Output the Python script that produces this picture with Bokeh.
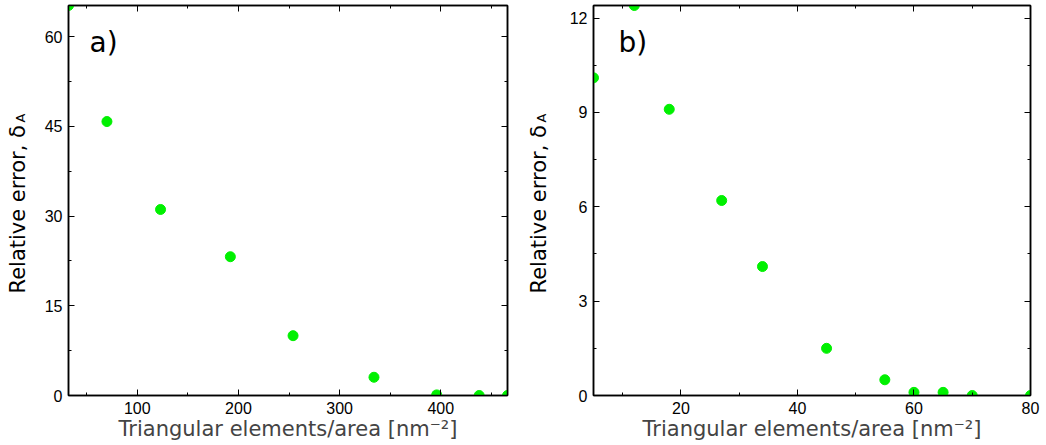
import math
from bokeh.plotting import figure
from bokeh.layouts import row
from bokeh.models import Range1d, FixedTicker, LinearAxis, Label
from bokeh.embed import file_html
from bokeh.resources import INLINE

# ---- data (panel a) ----
a_x = [32, 70, 123, 192, 254, 334, 396, 438, 466]
a_y = [65.2, 45.8, 31.1, 23.2, 10.0, 3.05, 0.1, 0.0, 0.0]
a_xticks = [100, 200, 300, 400]
a_xminor = [50, 150, 250, 350, 450]
a_yticks = [0, 15, 30, 45, 60]
a_yminor = [7.5, 22.5, 37.5, 52.5]

# ---- data (panel b) ----
b_x = [5, 12, 18, 27, 34, 45, 55, 60, 65, 70, 80]
b_y = [10.1, 12.4, 9.1, 6.2, 4.1, 1.5, 0.5, 0.1, 0.1, 0.0, 0.0]
b_xticks = [20, 40, 60, 80]
b_xminor = [10, 30, 50, 70]
b_yticks = [0, 3, 6, 9, 12]
b_yminor = [1.5, 4.5, 7.5, 10.5]

xlabel = "Triangular elements/area [nm\u207b\u00b2]"
ylabel = "Relative error, \u03b4"
ysub = "A"
panel_names = ["a)", "b)"]

GREEN = "#00f000"
HEIGHT = 445
TOP, BOTTOM = 5, 50


def style_axis(ax, ticker, labels=True):
    ax.ticker = ticker
    ax.major_tick_in = 6
    ax.major_tick_out = 0
    ax.minor_tick_in = 3
    ax.minor_tick_out = 0
    ax.axis_line_width = 1.5
    ax.axis_line_color = "black"
    ax.major_tick_line_color = "black"
    ax.minor_tick_line_color = "black"
    ax.major_tick_line_width = 1
    ax.minor_tick_line_width = 1
    if labels:
        ax.major_label_text_font = "Liberation Sans"
        ax.major_label_text_font_size = "16px"
        ax.major_label_text_color = "black"
        ax.major_label_standoff = 6
    else:
        ax.major_label_overrides = {t: "" for t in ticker.ticks}
        ax.major_label_standoff = 0
        ax.axis_label_standoff = 0


def make_panel(xs, ys, xt, xm, yt, ym, width, left, right, name, name_x, ylab_px):
    xmin, xmax = min(xs), max(xs)
    p = figure(width=width, height=HEIGHT, output_backend="svg", toolbar_location=None,
               x_range=Range1d(xmin, xmax), y_range=Range1d(0, max(ys)),
               min_border_left=left, min_border_right=right,
               min_border_top=TOP, min_border_bottom=BOTTOM)
    p.grid.visible = False
    p.outline_line_color = "black"
    p.outline_line_width = 1.5
    p.background_fill_color = "white"
    p.border_fill_color = "white"

    style_axis(p.xaxis[0], FixedTicker(ticks=xt, minor_ticks=xm))
    style_axis(p.yaxis[0], FixedTicker(ticks=yt, minor_ticks=ym))
    p.xaxis[0].axis_label = xlabel
    p.xaxis[0].axis_label_text_font = "DejaVu Sans"
    p.xaxis[0].axis_label_text_font_size = "21px"
    p.xaxis[0].axis_label_text_font_style = "normal"
    p.xaxis[0].axis_label_standoff = 0

    top = LinearAxis()
    style_axis(top, FixedTicker(ticks=xt, minor_ticks=xm), labels=False)
    p.add_layout(top, "above")
    rgt = LinearAxis()
    style_axis(rgt, FixedTicker(ticks=yt, minor_ticks=ym), labels=False)
    p.add_layout(rgt, "right")

    p.scatter(xs, ys, size=10, color=GREEN, line_color=GREEN)

    # panel tag, screen units measured from the frame's lower-left corner
    p.add_layout(Label(x=name_x, y=353, x_units="screen", y_units="screen", text=name,
                       text_font="DejaVu Sans", text_font_size="28px",
                       text_color="black", text_baseline="alphabetic"))

    # rotated y-axis title with subscript, placed in the left side panel
    frame_w = width - left - right

    def px_to_x(px):
        return xmin + (px - left) * (xmax - xmin) / frame_w

    common = dict(angle=math.pi / 2, text_font="DejaVu Sans", text_color="black",
                  text_baseline="alphabetic", text_align="left",
                  x_units="data", y_units="screen")
    l1 = Label(x=px_to_x(ylab_px), y=102, text=ylabel, text_font_size="21px", **common)
    l2 = Label(x=px_to_x(ylab_px + 3), y=273, text=ysub, text_font_size="13px", **common)
    p.add_layout(l1, "left")
    p.add_layout(l2, "left")
    return p


pa = make_panel(a_x, a_y, a_xticks, a_xminor, a_yticks, a_yminor, 520, 68, 13, panel_names[0], 21, 17)
pb = make_panel(b_x, b_y, b_xticks, b_xminor, b_yticks, b_yminor, 526, 73, 16, panel_names[1], 25, 18)

layout = row(pa, pb, spacing=0)
open("out.html", "w").write(file_html(layout, INLINE))
